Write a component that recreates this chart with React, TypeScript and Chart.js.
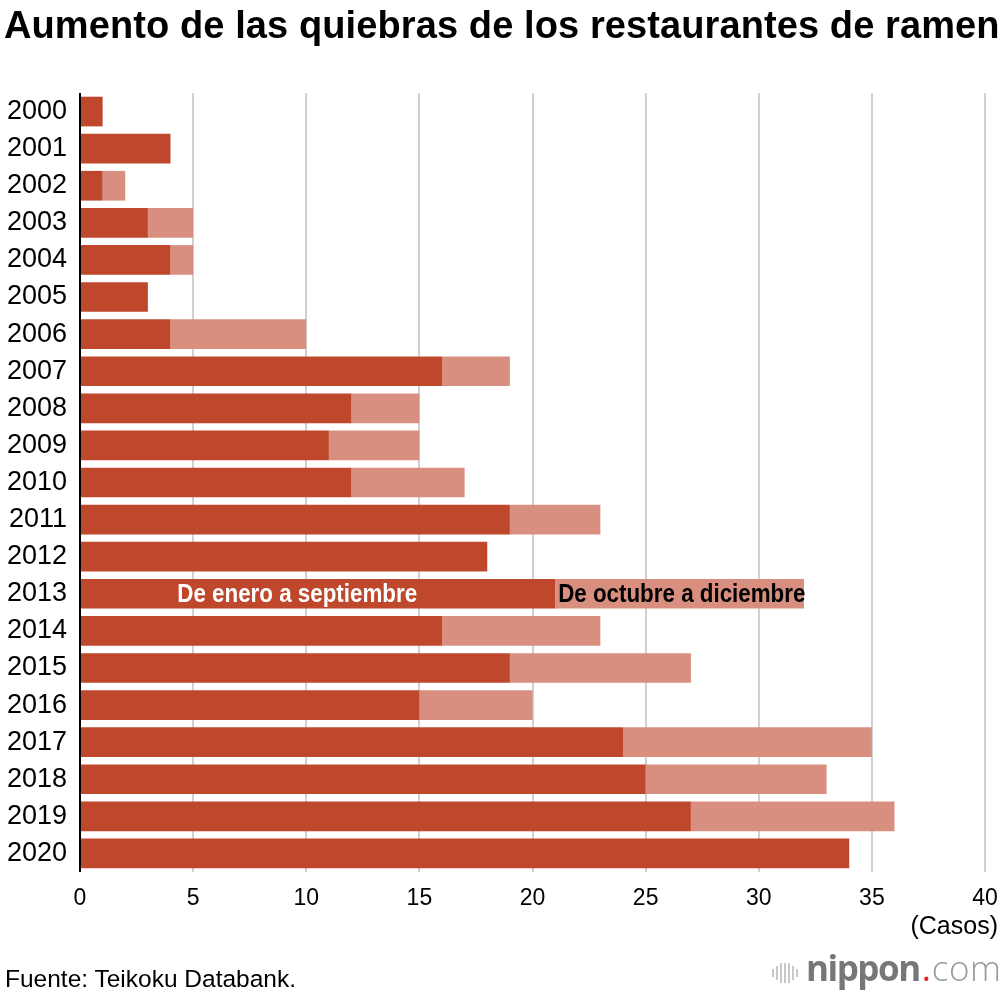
import React, { useEffect, useRef } from "react";
import { Chart, registerables } from "chart.js";

Chart.register(...registerables);

const years = [
  "2000", "2001", "2002", "2003", "2004", "2005", "2006", "2007", "2008", "2009", "2010",
  "2011", "2012", "2013", "2014", "2015", "2016", "2017", "2018", "2019", "2020",
];
// January to September
const janSep = [1, 4, 1, 3, 4, 3, 4, 16, 12, 11, 12, 19, 18, 21, 16, 19, 15, 24, 25, 27, 34];
// October to December
const octDec = [0, 0, 1, 2, 1, 0, 6, 3, 3, 4, 5, 4, 0, 11, 7, 8, 5, 11, 8, 9, 0];
const seriesNames = ["De enero a septiembre", "De octubre a diciembre"];
const labelYear = "2013";
const xTicks = [0, 5, 10, 15, 20, 25, 30, 35, 40];

const DARK = "#bf472c";
const LIGHT = "#d98f80";
const FONT = '"Liberation Sans", Arial, Helvetica, sans-serif';

const segmentLabels = {
  id: "segmentLabels",
  afterDatasetsDraw(chart: any) {
    const { ctx, scales } = chart;
    const i = years.indexOf(labelYear);
    const y = scales.y.getPixelForValue(i);
    const darkEnd = scales.x.getPixelForValue(janSep[i]);
    ctx.save();
    ctx.font = `bold 26px ${FONT}`;
    ctx.textBaseline = "middle";
    const sx = 0.86;
    // white label inside the first segment
    ctx.fillStyle = "#ffffff";
    ctx.textAlign = "center";
    ctx.save();
    ctx.translate(scales.x.getPixelForValue(9.6), y + 1);
    ctx.scale(sx, 1);
    ctx.fillText(seriesNames[0], 0, 0);
    ctx.restore();
    // black label at the start of the second segment
    ctx.fillStyle = "#000000";
    ctx.textAlign = "left";
    ctx.save();
    ctx.translate(darkEnd + 3, y + 1);
    ctx.scale(sx, 1);
    ctx.fillText(seriesNames[1], 0, 0);
    ctx.restore();
    ctx.restore();
  },
};

function RamenChart() {
  const canvasRef = useRef<HTMLCanvasElement>(null);

  useEffect(() => {
    const ctx = canvasRef.current?.getContext("2d");
    if (!ctx) return;
    const chart = new Chart(ctx, {
      type: "bar",
      data: {
        labels: years,
        datasets: [
          { label: seriesNames[0], data: janSep, backgroundColor: DARK, borderWidth: 0 },
          { label: seriesNames[1], data: octDec, backgroundColor: LIGHT, borderWidth: 0 },
        ],
      },
      options: {
        indexAxis: "y",
        responsive: false,
        animation: false,
        devicePixelRatio: 1,
        layout: { padding: { top: 93, right: 15, left: 0, bottom: 0 } },
        datasets: { bar: { categoryPercentage: 1, barPercentage: 0.8 } },
        plugins: { legend: { display: false }, tooltip: { enabled: false } },
        scales: {
          x: {
            stacked: true,
            min: 0,
            max: 40,
            afterFit: (s: any) => {
              s.height = 124;
              s.paddingLeft = 0;
              s.paddingRight = 0;
            },
            afterBuildTicks: (s: any) => {
              s.ticks = xTicks.map((v) => ({ value: v }));
            },
            ticks: { color: "#000", font: { family: FONT, size: 23 }, padding: 13 },
            grid: {
              drawTicks: false,
              lineWidth: 2,
              color: (c: any) => (c.tick && c.tick.value === 0 ? "#000000" : "#d0d0d0"),
            },
            border: { display: false },
          },
          y: {
            stacked: true,
            afterFit: (s: any) => {
              s.width = 80;
              s.paddingTop = 0;
              s.paddingBottom = 0;
            },
            ticks: { color: "#000", font: { family: FONT, size: 27 }, padding: 13 },
            grid: { display: false, drawTicks: false },
            border: { display: false },
          },
        },
      },
      plugins: [segmentLabels],
    });
    return () => chart.destroy();
  }, []);

  return (
    <canvas
      ref={canvasRef}
      width={1000}
      height={996}
      style={{ position: "absolute", left: 0, top: 0, width: 1000, height: 996 }}
    />
  );
}

const logoBars = [8, 14, 20, 20, 20, 14, 8];

export default function App() {
  return (
    <div
      style={{
        position: "absolute",
        left: 0,
        top: 0,
        width: 1000,
        height: 996,
        background: "#fff",
        fontFamily: FONT,
        overflow: "hidden",
      }}
    >
      <RamenChart />
      <div
        style={{
          position: "absolute",
          left: 4,
          top: 6,
          fontSize: 38,
          lineHeight: "38px",
          fontWeight: "bold",
          letterSpacing: 0.1,
          whiteSpace: "nowrap",
          color: "#000",
        }}
      >
        Aumento de las quiebras de los restaurantes de ramen
      </div>
      <div
        style={{
          position: "absolute",
          right: 2,
          top: 910,
          fontSize: 25,
          lineHeight: "30px",
          color: "#000",
        }}
      >
        (Casos)
      </div>
      <div
        style={{
          position: "absolute",
          left: 5,
          top: 964,
          fontSize: 24.5,
          lineHeight: "30px",
          color: "#000",
        }}
      >
        Fuente: Teikoku Databank.
      </div>
      <div
        style={{
          position: "absolute",
          left: 772,
          top: 962,
          height: 22,
          display: "flex",
          alignItems: "center",
          gap: 2,
        }}
      >
        {logoBars.map((h, i) => (
          <div key={i} style={{ width: 2, height: h, background: "#c8c8c8" }} />
        ))}
      </div>
      <div
        style={{
          position: "absolute",
          left: 806,
          top: 946,
          fontFamily: '"Open Sans", sans-serif',
          fontSize: 35,
          lineHeight: "44px",
          whiteSpace: "nowrap",
        }}
      >
        <span style={{ color: "#777", fontWeight: "bold", letterSpacing: -1.5 }}>nippon</span>
        <span style={{ color: "#e8262a", margin: "0 1px 0 2px" }}>.</span>
        <span style={{ color: "#9a9a9a", fontWeight: 300, letterSpacing: 0.5 }}>com</span>
      </div>
    </div>
  );
}
